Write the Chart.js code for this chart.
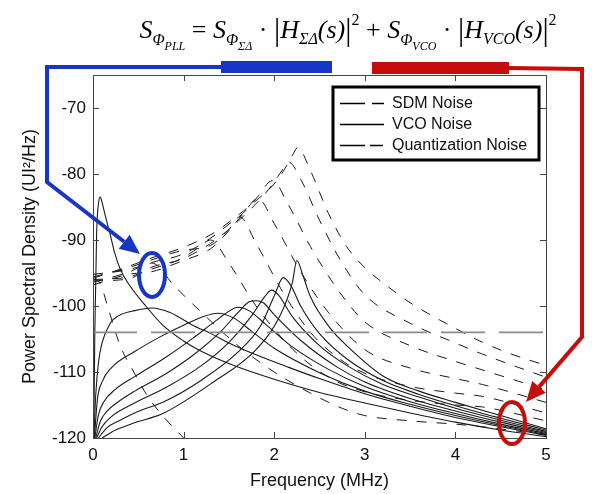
<!DOCTYPE html>
<html>
<head>
<meta charset="utf-8">
<script src="https://cdn.jsdelivr.net/npm/chart.js@4/dist/chart.umd.min.js"></script>
<style>
  html, body { margin: 0; background: #fff; }
  canvas { display: block; }
</style>
</head>
<body>
<canvas id="psd" width="592" height="494"></canvas>
<script>
// VCO noise for each loop bandwidth, [MHz, dB]
const vco1 = [[0.008,-120],[0.02,-104],[0.04,-89],[0.06,-84.5],[0.08,-83.5],[0.1,-84.3],[0.13,-86],[0.19,-89.2],[0.24,-92],[0.3,-94.4],[0.39,-96.6],[0.57,-99.8],[0.77,-102.9],[1.0,-105.3],[1.2,-106.9],[1.57,-109.1],[2.0,-111.1],[2.5,-113.1],[3.0,-114.7],[3.5,-116.2],[4.0,-117.6],[4.5,-118.8],[5.0,-119.8]];
const vco2 = [[0.01,-120],[0.03,-113.5],[0.06,-108.6],[0.1,-105.6],[0.19,-102.6],[0.28,-101.5],[0.46,-100.7],[0.65,-100.3],[0.85,-101],[1.1,-102.9],[1.32,-104.3],[1.5,-105.6],[1.8,-107.4],[2.16,-109.3],[2.5,-111],[3.0,-113.3],[3.5,-115.2],[4.0,-116.9],[4.5,-118.3],[5.0,-119.6]];
const vco3 = [[0.015,-120],[0.05,-114],[0.1,-111.5],[0.2,-109.4],[0.46,-106.9],[0.75,-104.6],[1.0,-102.9],[1.2,-101.7],[1.38,-101.1],[1.55,-101.8],[1.75,-103.8],[2.0,-106.4],[2.5,-110.1],[3.0,-112.9],[3.5,-114.9],[4.0,-116.6],[4.5,-118.1],[5.0,-119.45]];
const vco4 = [[0.02,-120],[0.06,-116.5],[0.12,-114.5],[0.25,-112.6],[0.46,-110.7],[0.8,-107.8],[1.1,-104.9],[1.35,-102.3],[1.5,-100.8],[1.6,-100.2],[1.72,-100.7],[1.9,-102.7],[2.2,-106.2],[2.6,-109.6],[3.0,-112.2],[3.5,-114.5],[4.0,-116.3],[4.5,-117.9],[5.0,-119.3]];
const vco5 = [[0.03,-120],[0.08,-117.5],[0.15,-116],[0.28,-114.5],[0.46,-112.9],[0.8,-110.3],[1.1,-107.5],[1.4,-104],[1.6,-101],[1.72,-99.4],[1.8,-99.2],[1.88,-99.5],[2.0,-101.3],[2.3,-105.3],[2.7,-109.3],[3.0,-111.5],[3.5,-114],[4.0,-115.9],[4.5,-117.6],[5.0,-119.15]];
const vco6 = [[0.04,-120],[0.1,-118.3],[0.2,-116.8],[0.46,-114.7],[0.8,-112.4],[1.2,-109],[1.5,-105.5],[1.75,-101.5],[1.9,-98.5],[1.97,-97.6],[2.05,-98.4],[2.2,-101.6],[2.5,-106],[2.8,-109],[3.2,-111.9],[3.6,-113.8],[4.0,-115.5],[4.5,-117.3],[5.0,-119.0]];
const vco7 = [[0.06,-120],[0.15,-118.5],[0.3,-117.3],[0.46,-116.2],[0.8,-114.4],[1.2,-111.2],[1.6,-107],[1.85,-103],[2.0,-98.5],[2.1,-95.7],[2.18,-96.8],[2.3,-100.2],[2.5,-104.2],[2.8,-108],[3.2,-111.3],[3.6,-113.4],[4.0,-115.1],[4.5,-117],[5.0,-118.8]];
const vco8 = [[0.1,-120],[0.25,-118.8],[0.46,-117.7],[0.77,-116.3],[1.32,-111.6],[1.8,-106.6],[2.06,-101.6],[2.2,-96.5],[2.25,-93.1],[2.32,-95.5],[2.4,-98.6],[2.62,-103.4],[2.8,-106],[3.2,-110.6],[3.6,-112.9],[4.0,-114.6],[4.5,-116.6],[5.0,-118.6]];

// SDM noise for the same bandwidths
const sdm1 = [[0,-95.8],[0.08,-96.6],[0.16,-100],[0.3,-106],[0.45,-110],[0.6,-113.6],[0.78,-116.8],[1.0,-120],[1.1,-121.5]];
const sdm2 = [[0,-96.4],[0.39,-94.9],[0.65,-93.5],[0.9,-97],[1.2,-101],[1.6,-106],[2.0,-110],[2.4,-113.2],[2.75,-115.5],[3.0,-116.6],[3.5,-117.4],[4.0,-117.9],[4.3,-118.3],[5.0,-119.5]];
const sdm3 = [[0,-96],[0.39,-95.6],[0.65,-94.4],[0.98,-92.8],[1.15,-91.3],[1.3,-90],[1.5,-93.5],[1.8,-100],[2.2,-106.5],[2.6,-110.8],[3.0,-113],[3.5,-114.3],[4.0,-115],[4.3,-115.3],[5.0,-117.4]];
const sdm4 = [[0,-95.6],[0.39,-94.2],[0.65,-93],[0.98,-91.6],[1.3,-90.8],[1.5,-88.4],[1.62,-86.5],[1.8,-90.5],[2.1,-98],[2.4,-104],[2.7,-107.8],[3.0,-110.2],[3.5,-112.2],[4.0,-113.2],[4.3,-113.7],[5.0,-116.2]];
const sdm5 = [[0,-96.8],[0.39,-95.2],[0.65,-94.8],[0.98,-93.2],[1.3,-91.3],[1.5,-88.6],[1.66,-86],[1.82,-83.7],[2.0,-87.5],[2.3,-95],[2.6,-101],[3.0,-106.6],[3.5,-109.4],[4.0,-111],[4.3,-111.9],[5.0,-114.6]];
const sdm6 = [[0,-95.2],[0.39,-94.5],[0.65,-93.4],[0.98,-92.2],[1.3,-89.7],[1.5,-87.6],[1.66,-85.9],[1.82,-83.4],[1.98,-81],[2.15,-84.5],[2.4,-91],[2.7,-97.5],[3.0,-102.4],[3.5,-106],[4.0,-108.4],[4.3,-109.7],[5.0,-112.7]];
const sdm7 = [[0,-96.2],[0.39,-95.9],[0.65,-94.1],[0.98,-92.9],[1.3,-90.5],[1.5,-88.4],[1.66,-86.4],[1.82,-84.2],[1.98,-81.6],[2.1,-79.2],[2.16,-78.2],[2.3,-81],[2.5,-87],[2.75,-93.5],[3.0,-98.3],[3.5,-102.6],[4.0,-105.6],[4.3,-107.3],[5.0,-110.8]];
const sdm8 = [[0,-95.8],[0.39,-94],[0.65,-92.7],[0.98,-91.2],[1.3,-89.2],[1.5,-87.3],[1.66,-85.6],[1.82,-83.8],[1.98,-81.8],[2.1,-79.6],[2.2,-77.2],[2.26,-76],[2.4,-79.5],[2.6,-86],[2.8,-91],[3.0,-94.2],[3.25,-97],[3.5,-99.5],[4.0,-103.4],[4.3,-105.5],[4.6,-107.2],[5.0,-109]];

// quantization noise floor
const quantFreq = [0, 5];
const quantLevel = -104;

const xTicks = [0, 1, 2, 3, 4, 5];
const yTicks = [-120, -110, -100, -90, -80, -70];
const legendLabels = ['SDM Noise', 'VCO Noise', 'Quantization Noise'];

const toXY = pts => pts.map(p => ({ x: p[0], y: p[1] }));

const vcoSets = [vco1, vco2, vco3, vco4, vco5, vco6, vco7, vco8].map(d => ({
  data: toXY(d),
  borderColor: '#1a1a1a',
  borderWidth: 1.1,
  pointRadius: 0,
  cubicInterpolationMode: 'monotone'
}));

const sdmSets = [sdm1, sdm2, sdm3, sdm4, sdm5, sdm6, sdm7, sdm8].map(d => ({
  data: toXY(d),
  borderColor: '#1a1a1a',
  borderWidth: 1,
  borderDash: [10, 10],
  pointRadius: 0,
  cubicInterpolationMode: 'monotone'
}));

const quantSet = {
  data: quantFreq.map(f => ({ x: f, y: quantLevel })),
  borderColor: '#8a8a8a',
  borderWidth: 1.8,
  borderDash: [44, 14],
  pointRadius: 0
};

// axes box with inward ticks on all four sides
const boxTicks = {
  id: 'boxTicks',
  afterDatasetsDraw(chart) {
    const { ctx, chartArea: a, scales: { x, y } } = chart;
    ctx.save();
    ctx.strokeStyle = '#444';
    ctx.lineWidth = 1;
    ctx.strokeRect(a.left + 0.5, a.top + 0.5, a.right - a.left, a.bottom - a.top);
    ctx.beginPath();
    xTicks.forEach(v => {
      const px = Math.round(x.getPixelForValue(v)) + 0.5;
      ctx.moveTo(px, a.bottom); ctx.lineTo(px, a.bottom - 6);
      ctx.moveTo(px, a.top); ctx.lineTo(px, a.top + 6);
    });
    yTicks.forEach(v => {
      const py = Math.round(y.getPixelForValue(v)) + 0.5;
      ctx.moveTo(a.left, py); ctx.lineTo(a.left + 6, py);
      ctx.moveTo(a.right, py); ctx.lineTo(a.right - 6, py);
    });
    ctx.stroke();
    ctx.restore();
  }
};

// boxed legend, top right
const boxLegend = {
  id: 'boxLegend',
  afterDatasetsDraw(chart) {
    const ctx = chart.ctx;
    const L = 333, T = 87, W = 206, H = 73;
    ctx.save();
    ctx.fillStyle = '#fff';
    ctx.fillRect(L, T, W, H);
    ctx.strokeStyle = '#000';
    ctx.lineWidth = 3;
    ctx.strokeRect(L, T, W, H);
    const rows = [103, 124, 145];
    const dashes = [[25, 7, 12, 100], [], [25, 5, 13, 100]];
    ctx.lineWidth = 1.3;
    rows.forEach((ry, i) => {
      ctx.setLineDash(dashes[i]);
      ctx.beginPath();
      ctx.moveTo(340, ry + 0.5);
      ctx.lineTo(384, ry + 0.5);
      ctx.stroke();
    });
    ctx.setLineDash([]);
    ctx.fillStyle = '#111';
    ctx.font = '16px "Liberation Sans", Arial, sans-serif';
    ctx.textBaseline = 'middle';
    legendLabels.forEach((t, i) => ctx.fillText(t, 392, rows[i] + 1));
    ctx.restore();
  }
};

// formula and the coloured call-outs above and beside the axes
const callouts = {
  id: 'callouts',
  afterDraw(chart) {
    const ctx = chart.ctx;
    ctx.save();

    const serif = '"Liberation Serif", "Times New Roman", serif';
    const big = 26, sub = 16, sub2 = 12;
    const parts = [
      ['S', big, 0, 'italic'], ['Φ', sub, 7, 'italic'], ['PLL', sub2, 12, 'italic'],
      [' = ', big, 0, ''],
      ['S', big, 0, 'italic'], ['Φ', sub, 7, 'italic'], ['ΣΔ', sub2, 12, 'italic'],
      [' · ', big, 0, ''], ['|', 31, 2, ''],
      ['H', big, 0, 'italic'], ['ΣΔ', sub, 6, 'italic'], ['(s)', big, 0, 'italic'],
      ['|', 31, 2, ''], ['2', sub, -13, ''],
      [' + ', big, 0, ''],
      ['S', big, 0, 'italic'], ['Φ', sub, 7, 'italic'], ['VCO', sub2, 12, 'italic'],
      [' · ', big, 0, ''], ['|', 31, 2, ''],
      ['H', big, 0, 'italic'], ['VCO', sub, 6, 'italic'], ['(s)', big, 0, 'italic'],
      ['|', 31, 2, ''], ['2', sub, -13, '']
    ];
    const fontOf = p => `${p[3]} ${p[1]}px ${serif}`.trim();
    let total = 0;
    parts.forEach(p => { ctx.font = fontOf(p); total += ctx.measureText(p[0]).width; });
    let cx = 348 - total / 2;
    const base = 38;
    ctx.fillStyle = '#000';
    ctx.textBaseline = 'alphabetic';
    parts.forEach(p => {
      ctx.font = fontOf(p);
      ctx.fillText(p[0], cx, base + p[2]);
      cx += ctx.measureText(p[0]).width;
    });

    const arrow = (pts, color, w) => {
      const n = pts.length;
      const [tx, ty] = pts[n - 1];
      const [sx, sy] = pts[n - 2];
      const ang = Math.atan2(ty - sy, tx - sx);
      const hl = 20, hw = 9;
      const bx = tx - hl * Math.cos(ang), by = ty - hl * Math.sin(ang);
      ctx.strokeStyle = color;
      ctx.fillStyle = color;
      ctx.lineWidth = w;
      ctx.lineJoin = 'miter';
      ctx.beginPath();
      ctx.moveTo(pts[0][0], pts[0][1]);
      for (let i = 1; i < n - 1; i++) ctx.lineTo(pts[i][0], pts[i][1]);
      ctx.lineTo(bx, by);
      ctx.stroke();
      ctx.beginPath();
      ctx.moveTo(tx, ty);
      ctx.lineTo(bx + hw * Math.sin(ang), by - hw * Math.cos(ang));
      ctx.lineTo(bx - hw * Math.sin(ang), by + hw * Math.cos(ang));
      ctx.closePath();
      ctx.fill();
    };

    const blue = '#1736c4', red = '#c70c0c';

    // blue: SDM part of the formula
    ctx.fillStyle = blue;
    ctx.fillRect(221, 61, 111, 12);
    arrow([[222, 67], [47, 67], [47, 182], [140, 254]], blue, 4);
    ctx.strokeStyle = blue;
    ctx.lineWidth = 4;
    ctx.beginPath();
    ctx.ellipse(152, 275, 13, 22, 0, 0, Math.PI * 2);
    ctx.stroke();

    // red: VCO part of the formula
    ctx.fillStyle = red;
    ctx.fillRect(372, 62, 137, 12);
    arrow([[508, 68], [582, 69], [582, 337], [526, 402]], red, 4);
    ctx.strokeStyle = red;
    ctx.lineWidth = 4;
    ctx.beginPath();
    ctx.ellipse(512, 423, 13, 21, 0, 0, Math.PI * 2);
    ctx.stroke();

    ctx.restore();
  }
};

const sans = '"Liberation Sans", Arial, sans-serif';

new Chart(document.getElementById('psd'), {
  type: 'line',
  data: { datasets: [quantSet, ...sdmSets, ...vcoSets] },
  options: {
    responsive: false,
    animation: false,
    layout: { padding: { left: 0, top: 75, right: 46, bottom: 0 } },
    plugins: { legend: { display: false }, tooltip: { enabled: false } },
    scales: {
      x: {
        type: 'linear',
        min: 0,
        max: 5,
        afterFit: s => { s.height = 56; },
        afterBuildTicks: s => { s.ticks = xTicks.map(v => ({ value: v })); },
        grid: { display: false, drawTicks: false },
        border: { display: false },
        ticks: { color: '#111', padding: 7, font: { family: sans, size: 17 } },
        title: {
          display: true,
          text: 'Frequency (MHz)',
          color: '#111',
          font: { family: sans, size: 18 },
          padding: { top: 0, bottom: 2 }
        }
      },
      y: {
        type: 'linear',
        min: -120,
        max: -65,
        afterFit: s => { s.width = 93; },
        afterBuildTicks: s => { s.ticks = yTicks.map(v => ({ value: v })); },
        grid: { display: false, drawTicks: false },
        border: { display: false },
        ticks: { color: '#111', padding: 7, font: { family: sans, size: 17 } },
        title: {
          display: true,
          text: 'Power Spectral Density (UI²/Hz)',
          color: '#111',
          font: { family: sans, size: 18 },
          padding: { top: 19, bottom: 0 }
        }
      }
    }
  },
  plugins: [boxTicks, boxLegend, callouts]
});
</script>
</body>
</html>
